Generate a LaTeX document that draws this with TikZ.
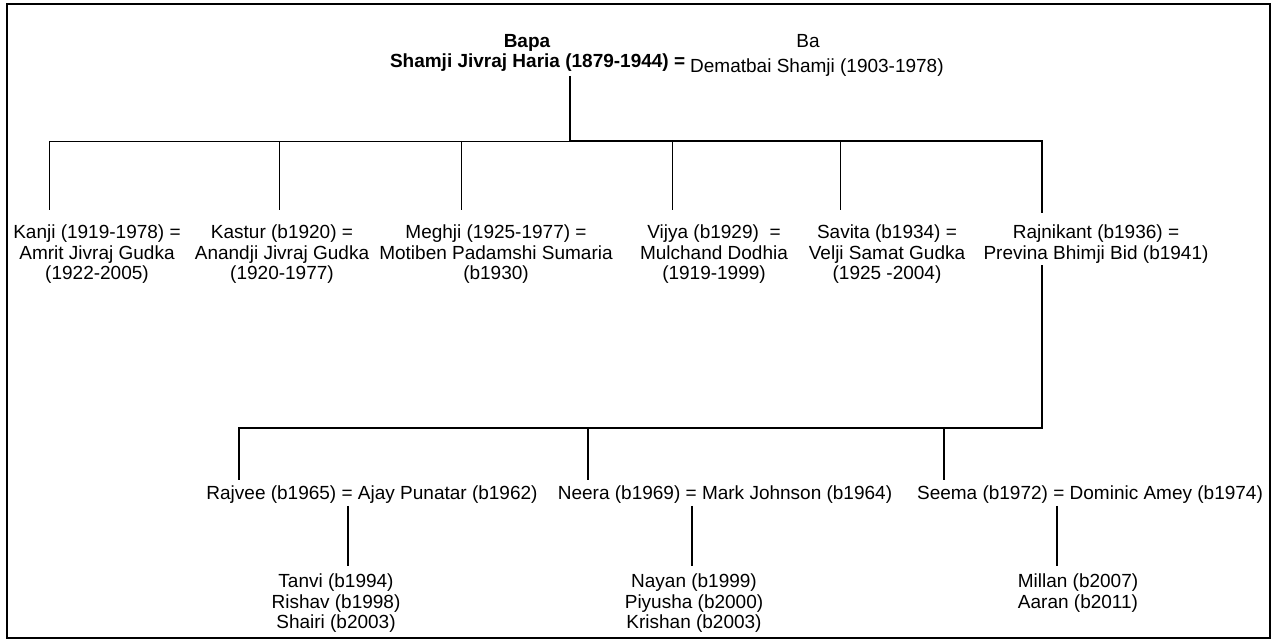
\documentclass[tikz,border=0pt]{standalone}
\usepackage{fontspec}
\setmainfont{Liberation Sans}
\usepackage{tikz}
\usetikzlibrary{positioning}
\newcommand{\famfont}{\fontsize{19}{20.5}\selectfont}

\begin{document}
\begin{tikzpicture}[x=1pt, y=-1pt,
  every node/.style={inner sep=0pt, outer sep=0pt, align=center, font=\famfont},
  thinline/.style={line width=0.9pt},
  thickline/.style={line width=2.8pt}]
  \useasboundingbox (0,0) rectangle (1276,644);
  \draw[line width=1.4pt] (7,4) rectangle (1270,638);

  \node[anchor=base west, font=\famfont\bfseries] (shamji) at (390,68) {Shamji Jivraj Haria (1879-1944) =};
  \node[anchor=base west, right = 5pt of shamji.base east] (dematbai) {Dematbai Shamji (1903-1978)};
  \node[anchor=base, font=\famfont\bfseries] (bapa) at (527,48) {Bapa};
  \node[anchor=base] (ba) at (808,48) {Ba};

  \node[anchor=north] (kanji) at (97,225) {Kanji (1919-1978) =\\Amrit Jivraj Gudka\\(1922-2005)};
  \node[anchor=north] (kastur) at (282,225) {Kastur (b1920) =\\Anandji Jivraj Gudka\\(1920-1977)};
  \node[anchor=north] (meghji) at (496,225) {Meghji (1925-1977) =\\Motiben Padamshi Sumaria\\(b1930)};
  \node[anchor=north] (vijya) at (714,225) {Vijya (b1929) \ =\\Mulchand Dodhia\\(1919-1999)};
  \node[anchor=north] (savita) at (887,225) {Savita (b1934) =\\Velji Samat Gudka\\(1925 -2004)};
  \node[anchor=north] (rajnikant) at (1096,225) {Rajnikant (b1936) =\\Previna Bhimji Bid (b1941)};

  \node[anchor=base] (rajvee) at (372,499) {Rajvee (b1965) = Ajay Punatar (b1962)};
  \node[anchor=base] (neera) at (725,499) {Neera (b1969) = Mark Johnson (b1964)};
  \node[anchor=base] (seema) at (1090,499) {Seema (b1972) = Dominic Amey (b1974)};

  \node[anchor=north] (rajvee-kids) at (336,574) {Tanvi (b1994)\\Rishav (b1998)\\Shairi (b2003)};
  \node[anchor=north] (neera-kids) at (694,574) {Nayan (b1999)\\Piyusha (b2000)\\Krishan (b2003)};
  \node[anchor=north] (seema-kids) at (1078,574) {Millan (b2007)\\Aaran (b2011)};

  \coordinate (fam) at (570,141);
  \coordinate (rk) at (1042,141);
  \coordinate (rajvee-drop) at (239,428);
  \coordinate (neera-drop) at (588,428);
  \coordinate (seema-drop) at (944,428);

  \foreach \n/\x in {kanji/49, kastur/279, meghji/461, vijya/672, savita/840} {
    \coordinate (\n-drop) at (\x,141);
    \draw[thinline, shorten >=15pt] (\n-drop) -- (\n-drop |- \n.north);
  }
  \draw[thinline] (kanji-drop) -- (fam);

  \draw[thickline, shorten <=4pt, shorten >=12pt] (shamji.south -| fam) -- (fam) -- (rk) -- (rajnikant.north -| rk);
  \draw[thickline, shorten <=2pt, shorten >=5pt] (rajnikant.south -| rk) |- (rajvee-drop) -- (rajvee-drop |- rajvee.north);
  \draw[thickline, shorten >=5pt] (neera-drop) -- (neera-drop |- neera.north);
  \draw[thickline, shorten >=5pt] (seema-drop) -- (seema-drop |- seema.north);

  \foreach \n/\x in {rajvee/348, neera/692, seema/1057} {
    \coordinate (\n-line) at (\x,0);
    \draw[thickline, shorten <=3pt, shorten >=8pt] (\n.south -| \n-line) -- (\n-kids.north -| \n-line);
  }
\end{tikzpicture}
\end{document}
